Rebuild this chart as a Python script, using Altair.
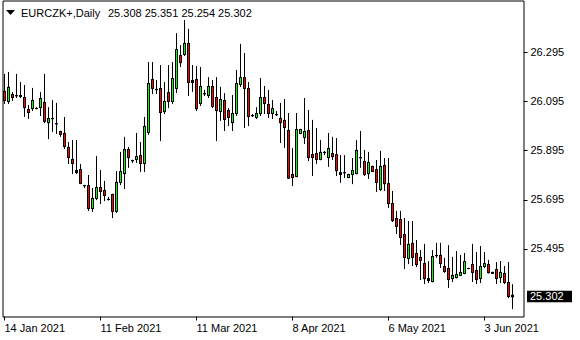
import json
import altair as alt
import pandas as pd

symbol = "EURCZK+"
timeframe = "Daily"
first_date = "2021-01-14"

open_prices = [
    26.137, 26.096, 26.124, 26.120, 26.120, 26.112, 26.063, 26.067, 26.067, 26.071,
    26.092, 26.010, 26.027, 26.006, 25.974, 25.966, 25.909, 25.860, 25.815, 25.819,
    25.754, 25.754, 25.661, 25.702, 25.746, 25.734, 25.697, 25.718, 25.649, 25.767,
    25.803, 25.901, 25.856, 25.860, 25.876, 25.844, 25.970, 26.185, 26.145, 26.149,
    26.055, 26.132, 26.096, 26.149, 26.283, 26.287, 26.332, 26.173, 26.185, 26.088,
    26.128, 26.120, 26.157, 26.112, 26.055, 26.100, 26.059, 26.010, 26.047, 26.165,
    26.193, 26.149, 26.039, 26.031, 26.047, 26.112, 26.084, 26.047, 26.043, 26.027,
    26.019, 25.978, 25.799, 25.791, 25.966, 25.950, 25.978, 25.880, 25.884, 25.860,
    25.889, 25.868, 25.884, 25.880, 25.799, 25.807, 25.787, 25.799, 25.803, 25.868,
    25.852, 25.803, 25.832, 25.819, 25.738, 25.836, 25.762, 25.681, 25.620, 25.616,
    25.555, 25.458, 25.519, 25.478, 25.462, 25.437, 25.376, 25.364, 25.470, 25.470,
    25.425, 25.417, 25.376, 25.380, 25.389, 25.397, 25.417, 25.433, 25.409, 25.376,
    25.425, 25.433, 25.401, 25.413, 25.380, 25.397, 25.360, 25.308,
]
high_prices = [
    26.206, 26.214, 26.132, 26.206, 26.173, 26.161, 26.080, 26.149, 26.071, 26.132,
    26.206, 26.071, 26.100, 26.088, 25.975, 26.031, 25.929, 25.937, 25.937, 25.840,
    25.755, 25.795, 25.742, 25.872, 25.815, 25.771, 25.706, 25.719, 25.811, 25.889,
    25.950, 25.909, 25.857, 25.966, 25.929, 26.031, 26.254, 26.254, 26.181, 26.242,
    26.173, 26.242, 26.254, 26.372, 26.323, 26.425, 26.389, 26.242, 26.238, 26.234,
    26.141, 26.193, 26.181, 26.193, 26.153, 26.128, 26.067, 26.120, 26.222, 26.328,
    26.291, 26.173, 26.043, 26.071, 26.189, 26.157, 26.141, 26.100, 26.055, 26.088,
    26.104, 26.047, 25.905, 26.047, 25.983, 26.108, 26.059, 26.019, 25.986, 25.937,
    25.893, 25.966, 25.950, 25.945, 25.876, 25.876, 25.800, 25.864, 25.937, 25.974,
    25.897, 25.889, 25.833, 25.856, 25.893, 25.864, 25.864, 25.730, 25.649, 25.649,
    25.620, 25.608, 25.608, 25.531, 25.490, 25.515, 25.445, 25.490, 25.519, 25.519,
    25.458, 25.510, 25.462, 25.486, 25.470, 25.478, 25.418, 25.515, 25.482, 25.506,
    25.482, 25.450, 25.402, 25.441, 25.445, 25.425, 25.441, 25.351,
]
low_prices = [
    26.088, 26.088, 26.100, 26.112, 26.112, 26.035, 26.027, 26.059, 26.066, 26.039,
    26.010, 25.945, 25.974, 25.966, 25.954, 25.905, 25.844, 25.803, 25.803, 25.762,
    25.746, 25.653, 25.649, 25.697, 25.681, 25.693, 25.696, 25.624, 25.645, 25.758,
    25.742, 25.828, 25.848, 25.848, 25.811, 25.811, 25.962, 26.128, 26.128, 25.937,
    26.047, 26.071, 26.088, 26.132, 26.238, 26.283, 26.120, 26.137, 26.059, 26.080,
    26.120, 26.112, 26.071, 25.937, 26.019, 25.978, 25.998, 25.978, 26.039, 26.157,
    25.990, 25.998, 26.035, 26.027, 26.039, 26.047, 26.031, 26.027, 26.039, 25.929,
    25.909, 25.783, 25.754, 25.790, 25.965, 25.925, 25.856, 25.795, 25.844, 25.859,
    25.880, 25.832, 25.860, 25.795, 25.767, 25.787, 25.786, 25.762, 25.802, 25.828,
    25.795, 25.783, 25.811, 25.730, 25.734, 25.734, 25.665, 25.608, 25.559, 25.515,
    25.417, 25.437, 25.429, 25.425, 25.372, 25.356, 25.360, 25.363, 25.462, 25.421,
    25.401, 25.340, 25.364, 25.379, 25.388, 25.396, 25.416, 25.364, 25.356, 25.360,
    25.421, 25.399, 25.397, 25.356, 25.360, 25.356, 25.299, 25.254,
]
close_prices = [
    26.100, 26.153, 26.112, 26.119, 26.116, 26.071, 26.051, 26.100, 26.068, 26.108,
    26.015, 26.027, 26.026, 26.005, 25.962, 25.913, 25.868, 25.844, 25.807, 25.763,
    25.753, 25.661, 25.702, 25.746, 25.730, 25.714, 25.698, 25.649, 25.767, 25.811,
    25.901, 25.868, 25.855, 25.872, 25.844, 25.994, 26.169, 26.149, 26.144, 26.051,
    26.096, 26.096, 26.189, 26.307, 26.254, 26.332, 26.173, 26.181, 26.067, 26.157,
    26.127, 26.157, 26.076, 26.059, 26.104, 26.023, 26.031, 26.047, 26.169, 26.193,
    26.149, 26.035, 26.038, 26.047, 26.112, 26.088, 26.047, 26.067, 26.042, 26.010,
    25.990, 25.784, 25.787, 25.982, 25.982, 25.974, 25.868, 25.868, 25.860, 25.889,
    25.888, 25.905, 25.872, 25.815, 25.807, 25.806, 25.799, 25.815, 25.897, 25.867,
    25.799, 25.848, 25.811, 25.767, 25.832, 25.762, 25.681, 25.612, 25.588, 25.543,
    25.462, 25.515, 25.462, 25.433, 25.450, 25.376, 25.368, 25.466, 25.469, 25.437,
    25.405, 25.372, 25.389, 25.393, 25.401, 25.445, 25.417, 25.401, 25.372, 25.425,
    25.437, 25.400, 25.397, 25.376, 25.401, 25.360, 25.303, 25.302,
]

y_tick_values = [25.495, 25.695, 25.895, 26.095, 26.295]
x_tick_index = [0, 24, 48, 72, 96, 120]

UP_COLOR = "#00FF00"
DOWN_COLOR = "#FF0000"
FONT = "Liberation Sans"
FS = 11
PX = 0.004065  # price per pixel of the chart window

n = len(open_prices)
all_days = pd.date_range(first_date, periods=220, freq="D")
dates = [d for d in all_days if d.dayofweek != 5][:n]  # broker feed has Sunday bars

df = pd.DataFrame({
    "i": list(range(n)),
    "date": [d.strftime("%Y-%m-%d") for d in dates],
    "open": open_prices,
    "high": high_prices,
    "low": low_prices,
    "close": close_prices,
})
df["top"] = df[["open", "close"]].max(axis=1)
df["bot"] = df[["open", "close"]].min(axis=1)
df["dir"] = ["up" if c > o else "down" for o, c in zip(df["open"], df["close"])]
tall = df[(df["top"] - df["bot"]) >= 2 * PX]

x_labels = [dates[i].strftime("%-d %b %Y") for i in x_tick_index]
label_expr = json.dumps(x_labels) + "[round(datum.value / 24)]"

W, H = 521, 316
y_max = 26.5064
y_min = y_max - H * PX
xs = alt.Scale(domain=[-0.5, -0.5 + W / 4], nice=False, zero=False)
ys = alt.Scale(domain=[y_min, y_max], nice=False, zero=False)

x_axis = alt.Axis(
    values=x_tick_index, labelExpr=label_expr, orient="bottom", domain=False, grid=False,
    tickSize=4, tickColor="black", tickWidth=1, labelAlign="left", labelBaseline="top",
    labelPadding=2, labelFont=FONT, labelFontSize=FS, labelColor="black",
    translate=0, labelFlush=False, labelOverlap=False, title=None,
)
y_axis = alt.Axis(
    values=y_tick_values, format=".3f", orient="right", domain=False, grid=False,
    tickSize=4, tickColor="black", tickWidth=1, labelAlign="left", labelBaseline="middle",
    labelPadding=3, labelFont=FONT, labelFontSize=FS, labelColor="black",
    translate=0, labelOverlap=False, title=None,
)

X = alt.X("i:Q", scale=xs, axis=x_axis)

wicks = alt.Chart(df).mark_rule(color="black", strokeWidth=1, strokeCap="square").encode(
    x=X,
    y=alt.Y("low:Q", scale=ys, axis=y_axis),
    y2="high:Q",
)

bodies = alt.Chart(df).mark_rect(
    color="black", xOffset=-1.5, x2Offset=1.5, yOffset=-0.5, y2Offset=0.5
).encode(
    x=X,
    x2="i:Q",
    y=alt.Y("top:Q", scale=ys, axis=y_axis),
    y2="bot:Q",
)

fills = alt.Chart(tall).mark_rect(
    xOffset=-0.5, x2Offset=0.5, yOffset=0.5, y2Offset=-0.5
).encode(
    x=X,
    x2="i:Q",
    y=alt.Y("top:Q", scale=ys, axis=y_axis),
    y2="bot:Q",
    color=alt.Color("dir:N", scale=alt.Scale(domain=["up", "down"], range=[UP_COLOR, DOWN_COLOR]), legend=None),
)

last = df.tail(1).copy()
last["ohlc"] = " ".join(f"{v:.3f}" for v in [last["open"].iloc[0], last["high"].iloc[0], last["low"].iloc[0], last["close"].iloc[0]])
last["name"] = f"{symbol},{timeframe}"
last["price"] = [f"{v:.3f}" for v in last["close"]]

tri = alt.Chart(last).mark_point(
    shape="M-1,-0.55L1,-0.55L0,0.55Z", filled=True, size=81, color="black", opacity=1, strokeWidth=0
).encode(x=alt.value(8), y=alt.value(12))

name_txt = alt.Chart(last).mark_text(
    align="left", baseline="alphabetic", font=FONT, fontSize=FS, color="black"
).encode(x=alt.value(18.5), y=alt.value(16.5), text="name:N")

ohlc_txt = alt.Chart(last).mark_text(
    align="left", baseline="alphabetic", font=FONT, fontSize=FS, color="black"
).encode(x=alt.value(105.5), y=alt.value(16.5), text="ohlc:N")

price_box = alt.Chart(last).mark_rect(color="black", yOffset=-6, y2Offset=5.5).encode(
    x=alt.value(524.5), x2=alt.value(569.5),
    y=alt.Y("close:Q", scale=ys, axis=y_axis), y2="close:Q",
)
price_txt = alt.Chart(last).mark_text(
    align="left", baseline="middle", font=FONT, fontSize=FS, color="white"
).encode(x=alt.value(527.5), y=alt.Y("close:Q", scale=ys, axis=y_axis), text="price:N")

chart = alt.layer(
    wicks, bodies, fills, tri, name_txt, ohlc_txt, price_box, price_txt
).properties(
    width=W, height=H,
    padding={"left": 2.5, "top": 0.5, "right": 56.5, "bottom": 23.5},
    autosize=alt.AutoSizeParams(type="none"),
    background="white",
).configure_view(stroke="black", strokeWidth=1, fill="white")

chart.save("out.html", embed_options={"renderer": "svg", "actions": False})
